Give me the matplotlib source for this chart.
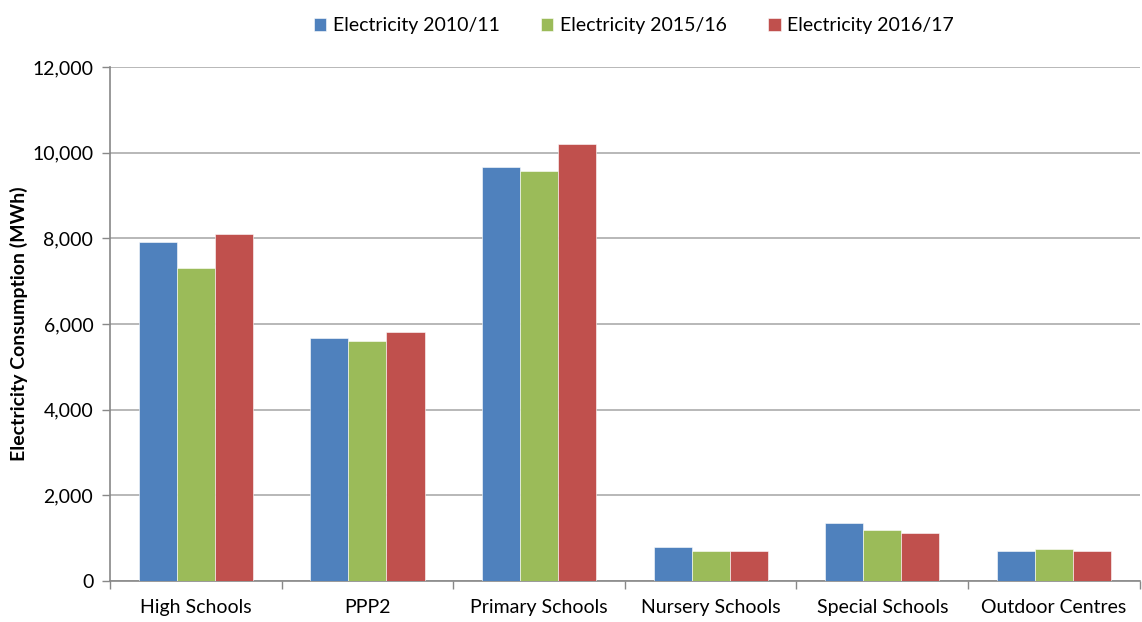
import matplotlib
matplotlib.use("Agg")
import matplotlib.pyplot as plt
import numpy as np
from matplotlib.ticker import FuncFormatter, MultipleLocator, FixedLocator

categories = ["High Schools", "PPP2", "Primary Schools", "Nursery Schools", "Special Schools", "Outdoor Centres"]
series_names = ["Electricity 2010/11", "Electricity 2015/16", "Electricity 2016/17"]
elec_2010 = [7920, 5680, 9680, 790, 1360, 710]
elec_2015 = [7310, 5610, 9580, 710, 1195, 755]
elec_2016 = [8100, 5810, 10210, 695, 1125, 690]
colors = ["#4F81BD", "#9BBB59", "#C0504D"]

plt.rcParams['font.family'] = ['Lato', 'DejaVu Sans']

fig = plt.figure(figsize=(11.42, 6.22), dpi=100)
ax = fig.add_axes([0.0963, 0.0659, 0.9017, 0.826])

x = np.arange(len(categories))
w = 0.222
for i, (vals, name, c) in enumerate(zip([elec_2010, elec_2015, elec_2016], series_names, colors)):
    ax.bar(x + (i - 1) * w, vals, width=w, color=c, label=name, zorder=3,
           edgecolor='white', linewidth=0.4)

ax.set_xlim(-0.5, len(categories) - 0.5)
ax.set_ylim(0, 12000)
ax.yaxis.set_major_locator(MultipleLocator(2000))
ax.yaxis.set_major_formatter(FuncFormatter(lambda v, p: f"{int(v):,}"))
ax.grid(axis='y', color='#b8b8b8', linewidth=1.4, zorder=0)

ax.set_xticks(x)
ax.set_xticklabels(categories, fontsize=14)
ax.xaxis.set_minor_locator(FixedLocator(np.arange(-0.5, len(categories), 1.0)))
ax.tick_params(axis='x', which='major', length=0, pad=13)
ax.tick_params(axis='x', which='minor', length=6, color='#888888', width=1)
ax.tick_params(axis='y', length=6, color='#888888', width=1, labelsize=14, pad=6)

for s in ['top', 'right']:
    ax.spines[s].set_visible(False)
for s in ['left', 'bottom']:
    ax.spines[s].set_color('#888888')
    ax.spines[s].set_linewidth(1.2)

ax.set_ylabel("Electricity Consumption (MWh)", fontsize=14, fontweight='bold', labelpad=3)

leg = fig.legend(loc='upper center', bbox_to_anchor=(0.555, 1.0), ncol=3, frameon=False,
                 fontsize=14, handlelength=0.65, handleheight=0.65, columnspacing=2.1, handletextpad=0.35)

fig.savefig("out.png", dpi=100)
